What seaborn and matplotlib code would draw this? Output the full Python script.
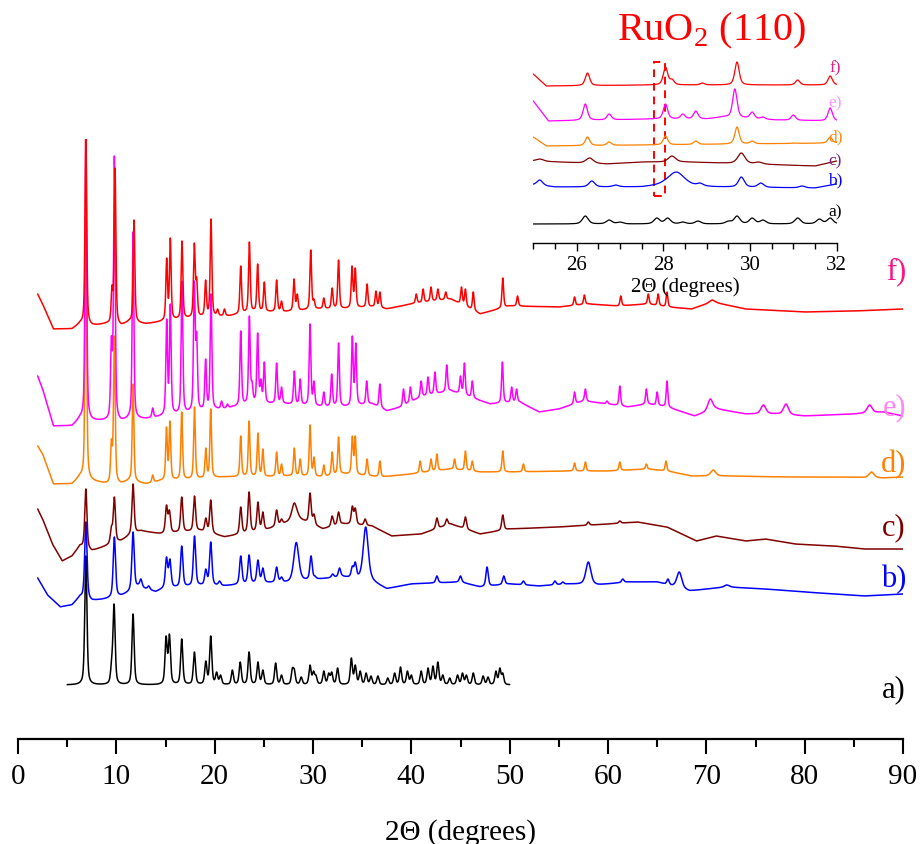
import numpy as np
import pandas as pd
import matplotlib
matplotlib.use("Agg")
import matplotlib.pyplot as plt
import seaborn as sns
from matplotlib.patches import Rectangle

# ---------------- data (2theta in degrees, intensity in arbitrary units) ----------------
# a) simulated pattern
a_base_x = [5.0, 50.0]
a_base_y = [4, 4]
a_pos = [6.9, 9.53, 9.77, 11.7, 15.06, 15.4, 16.65, 17.94, 19.1, 19.6, 20.2, 20.6, 21.8, 22.6,
         23.5, 24.4, 24.9, 26.2, 26.8, 27.9, 28.1, 28.8, 29.7, 30.05, 30.3, 31.1, 31.6, 31.9,
         32.5, 33.9, 34.3, 34.8, 35.4, 35.9, 36.6, 37.6, 38.3, 38.9, 39.6, 40.0, 41.0, 41.7,
         42.2, 42.7, 43.2, 43.9, 44.7, 45.2, 45.6, 46.3, 47.3, 47.8, 48.6, 49.0, 49.3]
a_top = [133, 32, 85, 75, 53, 55, 50, 37, 28, 53, 17, 14, 19, 27, 37, 27, 19, 26, 14, 21, 20, 12,
         24, 18, 14, 18, 16, 17, 21, 31, 24, 18, 16, 13, 13, 11, 16, 22, 18, 14, 18, 21, 23, 27,
         14, 11, 14, 16, 14, 16, 13, 12, 18, 21, 16]

# b)
b_base_x = [2.0, 3.0, 4.3, 5.5, 6.3, 7.5, 9.0, 10.5, 11.2, 12.2, 14.0, 14.8, 18.5, 21.0, 25.0, 27.5,
            31.0, 33.0, 36.0, 37.5, 40.0, 45.0, 47.0, 50.0, 53.0, 56.0, 59.0, 62.0, 65.0, 68.3,
            72.0, 76.0, 80.0, 86.0, 90.0]
b_base_y = [31, 14, 2, 4, 12, 8, 10, 13, 16, 22, 17, 20, 23, 23, 26, 26, 30, 32, 27, 20, 25, 27,
            22, 25, 23, 25, 24, 27, 27, 18, 22, 20, 17, 13, 15]
b_pos = [6.9, 9.8, 11.7, 12.5, 13.3, 15.1, 15.45, 16.65, 17.95, 19.1, 19.6, 20.5, 22.65, 23.5,
         24.4, 24.9, 26.3, 26.8, 28.6, 29.8, 30.2, 32.0, 32.7, 34.0, 34.3, 42.6, 45.0, 47.7,
         49.4, 51.4, 54.6, 55.4, 61.5, 66.1]
b_top = [87, 72, 77, 30, 23, 52, 50, 63, 73, 40, 67, 28, 53, 54, 49, 41, 42, 32, 33, 53, 33, 35,
         41, 43, 47, 33, 33, 42, 33, 28, 28, 27, 30, 30]
b_broad_pos = [28.3, 35.36, 58.0, 67.25, 72.1]
b_broad_top = [65, 82, 47, 37, 24]

# c)
c_base_x = [2.0, 2.5, 3.5, 4.5, 5.5, 6.3, 7.5, 9.0, 10.5, 11.3, 12.5, 14.5, 18.5, 21.0, 23.0,
            25.0, 27.0, 28.5, 31.0, 33.0, 36.0, 38.0, 41.0, 44.0, 47.0, 50.0, 55.0, 60.0, 63.0,
            66.0, 69.0, 71.0, 74.0, 76.0, 79.0, 83.0, 86.0, 90.0]
c_base_y = [55, 45, 20, 3, 8, 18, 13, 18, 23, 28, 33, 30, 33, 27, 30, 33, 40, 45, 35, 40, 38, 28,
            30, 40, 30, 35, 37, 40, 42, 37, 23, 28, 23, 25, 20, 18, 15, 15]
c_pos = [6.9, 9.5, 9.8, 11.7, 15.1, 15.4, 16.65, 17.95, 19.1, 19.6, 22.65, 23.5, 24.4, 24.9,
         26.3, 26.8, 29.7, 30.1, 31.95, 32.6, 34.0, 34.3, 35.3, 42.6, 43.6, 45.5, 49.3, 58.0, 61.2]
c_top = [75, 38, 67, 80, 59, 54, 67, 68, 46, 64, 57, 72, 62, 52, 54, 45, 71, 50, 48, 52, 58, 56,
         45, 46, 45, 47, 49, 42, 43]
c_broad_pos = [28.1]
c_broad_top = [61]

# d)
d_base_x = [2.0, 2.5, 3.6, 5.5, 6.3, 7.5, 9.0, 10.5, 11.3, 13.0, 14.5, 18.5, 21.0, 25.0, 28.0,
            31.0, 33.0, 37.0, 40.0, 44.0, 47.0, 50.0, 56.0, 60.0, 64.0, 66.0, 68.5, 72.0, 78.0,
            84.0, 88.0, 90.0]
d_base_y = [43, 35, 5, 5, 12, 8, 5, 5, 8, 5, 8, 10, 12, 12, 13, 12, 15, 12, 15, 20, 17, 17, 18,
            18, 20, 18, 13, 13, 12, 12, 11, 12]
d_pos = [6.9, 9.5, 9.8, 11.7, 13.7, 15.1, 15.45, 16.65, 17.95, 19.1, 19.6, 22.65, 23.5, 24.4,
         24.9, 26.3, 26.8, 28.1, 28.7, 29.7, 30.1, 31.1, 31.95, 32.6, 34.0, 34.3, 35.5, 36.8,
         40.9, 42.0, 42.6, 44.4, 45.5, 46.2, 49.3, 51.4, 56.6, 57.7, 61.2, 63.9, 65.9]
d_top = [265, 50, 153, 105, 14, 62, 68, 77, 82, 41, 80, 53, 68, 56, 40, 37, 25, 41, 30, 64, 32,
         24, 37, 52, 53, 53, 30, 28, 28, 30, 35, 30, 38, 28, 38, 25, 26, 27, 27, 25, 28]
d_broad_pos = [70.7, 86.8]
d_broad_top = [19, 17]

# e)
e_base_x = [2.0, 2.5, 3.6, 5.5, 6.3, 7.5, 9.0, 10.5, 11.3, 13.0, 14.5, 17.0, 19.0, 21.0, 24.0,
            27.0, 31.0, 33.5, 36.0, 37.5, 39.0, 41.0, 44.0, 46.5, 48.0, 51.0, 53.0, 55.0, 57.5,
            60.0, 62.0, 64.0, 66.0, 68.8, 71.0, 74.0, 77.0, 80.0, 85.0, 88.0, 90.0]
e_base_y = [53, 40, 3, 3, 10, 8, 8, 7, 10, 10, 12, 15, 18, 20, 25, 25, 22, 22, 25, 18, 22, 32, 38,
            30, 25, 27, 17, 20, 28, 25, 22, 25, 22, 13, 20, 15, 15, 13, 15, 17, 13]
e_pos = [6.9, 9.5, 9.8, 11.7, 13.7, 15.12, 15.49, 16.68, 17.93, 18.17, 19.08, 19.63, 20.7, 21.3,
         21.8, 22.65, 23.53, 23.8, 24.37, 24.7, 25.05, 26.3, 26.8, 28.1, 28.7, 29.7, 30.1, 31.1,
         31.9, 32.6, 34.0, 34.35, 35.46, 36.8, 39.2, 39.9, 41.0, 41.7, 42.4, 43.6, 45.0, 45.4,
         46.2, 49.26, 50.2, 50.7, 56.6, 57.7, 59.9, 61.2, 63.9, 65.0, 66.0]
e_top = [300, 93, 273, 197, 21, 110, 125, 148, 148, 97, 70, 135, 28, 25, 23, 98, 113, 48, 96, 50,
         67, 66, 42, 58, 50, 105, 48, 37, 55, 86, 93, 86, 48, 45, 40, 42, 48, 52, 57, 64, 53, 66,
         48, 67, 42, 40, 37, 40, 28, 43, 40, 37, 48]
e_broad_pos = [70.4, 75.8, 78.1, 86.6]
e_broad_top = [30, 24, 25, 24]

# f)
f_base_x = [2.0, 2.5, 3.6, 5.5, 6.3, 7.5, 9.0, 10.5, 11.3, 13.0, 14.5, 17.0, 19.0, 21.5, 24.0,
            27.0, 30.7, 33.0, 36.0, 37.5, 40.0, 44.0, 47.0, 50.0, 55.0, 58.0, 61.0, 64.0, 66.0,
            68.5, 70.6, 74.0, 80.0, 85.0, 90.0]
f_base_y = [40, 30, 5, 5, 10, 8, 10, 8, 12, 10, 12, 15, 17, 18, 22, 22, 25, 25, 27, 25, 30, 35,
            20, 28, 27, 30, 28, 30, 27, 25, 32, 25, 22, 23, 25]
f_pos = [6.9, 9.56, 9.87, 11.8, 15.12, 15.49, 16.68, 17.93, 18.17, 19.08, 19.63, 20.3, 21.0,
         22.65, 23.53, 24.37, 25.05, 26.3, 26.8, 28.07, 28.4, 29.77, 30.1, 31.1, 31.95, 32.6,
         33.97, 34.3, 35.5, 36.4, 36.8, 40.5, 41.2, 42.0, 42.7, 43.5, 45.1, 45.5, 46.3, 49.3,
         50.8, 56.6, 57.6, 61.3, 64.1, 65.1, 66.0]
f_top = [205, 49, 166, 114, 76, 96, 93, 91, 57, 54, 115, 25, 25, 68, 92, 70, 52, 54, 33, 55, 40,
         84, 35, 36, 46, 74, 68, 66, 50, 43, 42, 40, 45, 47, 45, 42, 47, 45, 42, 56, 38, 37, 39,
         38, 40, 40, 42]
f_broad_pos = [70.6]
f_broad_top = [34]

# inset (25-32 degrees)
ia_base_x = [25.0, 32.0]
ia_base_y = [3, 3]
ia_pos = [26.2, 26.75, 27.0, 27.85, 28.1, 28.45, 28.8, 29.5, 29.7, 30.05, 30.3, 31.1, 31.6, 31.85]
ia_top = [11, 7, 5, 9, 9, 5, 6, 6, 11, 9, 7, 9, 8, 9]
ib_base_x = [25.0, 25.5, 27.5, 28.0, 29.2, 31.5, 32.0]
ib_base_y = [5, 3, 3, 5, 3, 2, 6]
ib_pos = [25.15, 26.35, 26.9, 28.85, 29.8, 30.25, 31.2]
ib_top = [10, 9, 5, 7, 13, 7, 4]
ib_broad_pos = [28.3]
ib_broad_top = [18]
ic_base_x = [25.0, 26.7, 27.5, 28.5, 29.3, 31.5, 32.0]
ic_base_y = [8, 5, 7, 7, 6, 3, 8]
ic_pos = [25.15, 26.3, 28.2, 29.8, 30.2]
ic_top = [10, 11, 13, 16, 7]
id_base_x = [25.0, 25.3, 32.0]
id_base_y = [12, 3, 6]
id_pos = [26.25, 26.75, 28.05, 28.75, 29.7, 30.05, 31.0, 31.85]
id_top = [12, 7, 13, 8, 22, 8, 6, 12]
ie_base_x = [25.0, 25.35, 27.8, 29.0, 29.4, 30.6, 32.0]
ie_base_y = [23, 3, 5, 5, 7, 4, 3]
ie_pos = [26.2, 26.75, 28.05, 28.45, 28.75, 29.65, 30.05, 30.3, 31.0, 31.85]
ie_top = [20, 10, 20, 10, 13, 35, 12, 7, 9, 16]
if_base_x = [25.0, 25.3, 27.8, 32.0]
if_base_y = [15, 3, 4, 4]
if_pos = [26.25, 28.05, 28.2, 28.9, 29.7, 31.1, 31.85]
if_top = [16, 22, 10, 6, 27, 9, 13]

labels = ["a)", "b)", "c)", "d)", "e)", "f)"]
main_ticks = [0, 10, 20, 30, 40, 50, 60, 70, 80, 90]
inset_ticks = [26, 28, 30, 32]

# ---------------- helpers ----------------
def pv(x, c, w, eta=0.5):
    d = (x - c) / w
    return eta / (1 + d * d) + (1 - eta) * np.exp(-np.log(2) * d * d)


def build(x, bx, by, peaks):
    """peaks: list of (positions, tops, hwhm)"""
    base = np.interp(x, bx, by)
    pos = np.concatenate([np.asarray(p, float) for p, t, w in peaks])
    top = np.concatenate([np.asarray(t, float) for p, t, w in peaks])
    wid = np.concatenate([np.full(len(p), w, float) for p, t, w in peaks])
    A = pv(pos[:, None], pos[None, :], wid[None, :])
    rhs = top - np.interp(pos, bx, by)
    amp = np.linalg.lstsq(A, rhs, rcond=None)[0]
    amp = np.clip(amp, 0, None)
    return base + (pv(x[:, None], pos[None, :], wid[None, :]) * amp).sum(1)


# ---------------- figure ----------------
sns.set_style("white")
plt.rcParams["font.family"] = ["Liberation Serif", "DejaVu Serif"]
plt.rcParams["mathtext.fontset"] = "custom"
plt.rcParams["mathtext.rm"] = "Liberation Serif"
for key in ["text.color", "axes.labelcolor", "xtick.color", "ytick.color", "axes.edgecolor"]:
    plt.rcParams[key] = "black"

fig = plt.figure(figsize=(9.21, 8.45), dpi=100)
ax = fig.add_axes([18 / 921, 105 / 845, 885 / 921, 600 / 845])

colors = {"a": "black", "b": "#0000ff", "c": "#800000", "d": "#ff8000", "e": "#ff00ff", "f": "#ff0000"}
offsets = {"a": 50, "b": 130, "c": 175, "d": 250, "e": 310, "f": 405}

xa = np.arange(5.0, 50.0001, 0.01)
xf = np.arange(2.0, 90.0001, 0.01)
traces = {
    "a": (xa, build(xa, a_base_x, a_base_y, [(a_pos, a_top, 0.13)])),
    "b": (xf, build(xf, b_base_x, b_base_y, [(b_pos, b_top, 0.14), (b_broad_pos, b_broad_top, 0.3)])),
    "c": (xf, build(xf, c_base_x, c_base_y, [(c_pos, c_top, 0.13), (c_broad_pos, c_broad_top, 0.3)])),
    "d": (xf, build(xf, d_base_x, d_base_y, [(d_pos, d_top, 0.1), (d_broad_pos, d_broad_top, 0.3)])),
    "e": (xf, build(xf, e_base_x, e_base_y, [(e_pos, e_top, 0.1), (e_broad_pos, e_broad_top, 0.3)])),
    "f": (xf, build(xf, f_base_x, f_base_y, [(f_pos, f_top, 0.1), (f_broad_pos, f_broad_top, 0.35)])),
}
for k in ["a", "b", "c", "d", "e", "f"]:
    x, y = traces[k]
    df = pd.DataFrame({"x": x, "y": y + offsets[k]})
    sns.lineplot(data=df, x="x", y="y", ax=ax, color=colors[k], lw=1.1,
                 estimator=None, sort=False, legend=False)

ax.set_xlim(0, 90)
ax.set_ylim(0, 600)
ax.set_yticks([])
ax.set_ylabel("")
sns.despine(ax=ax, left=True, top=True, right=True)
ax.spines["bottom"].set_linewidth(1.6)
ax.set_xticks(main_ticks)
ax.set_xticks([5, 15, 25, 35, 45, 55, 65, 75, 85], minor=True)
ax.tick_params(axis="x", which="major", direction="out", length=11, width=1.5,
               labelsize=21, pad=6, bottom=True, colors="black")
ax.tick_params(axis="x", which="minor", direction="out", length=6, width=1.5, bottom=True)
ax.set_xlabel("2\u0398 (degrees)", fontsize=21, labelpad=21)

lab_colors = ["black", "#0000ff", "#800000", "#ff8000", "#ff88f0", "#ff1480"]
lab_y = [50, 160, 212, 275, 332, 468]
for t, c, yy in zip(labels, lab_colors, lab_y):
    ax.text(90.3, yy, t, color=c, fontsize=22, ha="right", va="center", clip_on=False)

# ---------------- inset ----------------
ins = fig.add_axes([533.3 / 921, (845 - 244) / 845, 303.4 / 921, 194 / 845])
ins.patch.set_alpha(0)
xi = np.arange(25.0, 32.0001, 0.004)
ins_offsets = {"a": 16, "b": 53, "c": 74, "d": 94, "e": 119, "f": 154}
ins_traces = {
    "a": build(xi, ia_base_x, ia_base_y, [(ia_pos, ia_top, 0.08)]),
    "b": build(xi, ib_base_x, ib_base_y, [(ib_pos, ib_top, 0.08), (ib_broad_pos, ib_broad_top, 0.22)]),
    "c": build(xi, ic_base_x, ic_base_y, [(ic_pos, ic_top, 0.1)]),
    "d": build(xi, id_base_x, id_base_y, [(id_pos, id_top, 0.06)]),
    "e": build(xi, ie_base_x, ie_base_y, [(ie_pos, ie_top, 0.06)]),
    "f": build(xi, if_base_x, if_base_y, [(if_pos, if_top, 0.06)]),
}
for k in ["a", "b", "c", "d", "e", "f"]:
    df = pd.DataFrame({"x": xi, "y": ins_traces[k] + ins_offsets[k]})
    sns.lineplot(data=df, x="x", y="y", ax=ins, color=colors[k], lw=0.9,
                 estimator=None, sort=False, legend=False)
ins.set_xlim(25, 32)
ins.set_ylim(0, 194)
ins.set_yticks([])
ins.set_ylabel("")
sns.despine(ax=ins, left=True, top=True, right=True)
ins.spines["bottom"].set_linewidth(1.0)
ins.set_xticks(inset_ticks)
ins.set_xticks([25, 25.5, 26.5, 27, 27.5, 28.5, 29, 29.5, 30.5, 31, 31.5], minor=True)
ins.tick_params(axis="x", which="major", direction="out", length=6, width=1.0,
                labelsize=15, pad=3, bottom=True, colors="black")
ins.tick_params(axis="x", which="minor", direction="out", length=4, width=1.0, bottom=True)
ins.set_xlabel("2\u0398 (degrees)", fontsize=15, labelpad=1)

ins_lab_colors = ["black", "#0000ff", "#7a1f7a", "#ff8c1a", "#ff99ff", "#e8207f"]
ins_lab_y = [32, 64, 83, 107, 141, 176]
for t, c, yy in zip(labels, ins_lab_colors, ins_lab_y):
    ins.text(31.97, yy, t, color=c, fontsize=12.5, ha="center", va="center", clip_on=False)

ins.add_patch(Rectangle((27.78, 47), 0.27, 134, fill=False, edgecolor="red",
                        lw=1.4, ls=(0, (4, 3))))

fig.text(712 / 921, 1 - 31 / 845, r"RuO$_{\mathregular{2}}$ (110)", color="red",
         fontsize=29, ha="center", va="center")

fig.savefig("out.png", dpi=100)
